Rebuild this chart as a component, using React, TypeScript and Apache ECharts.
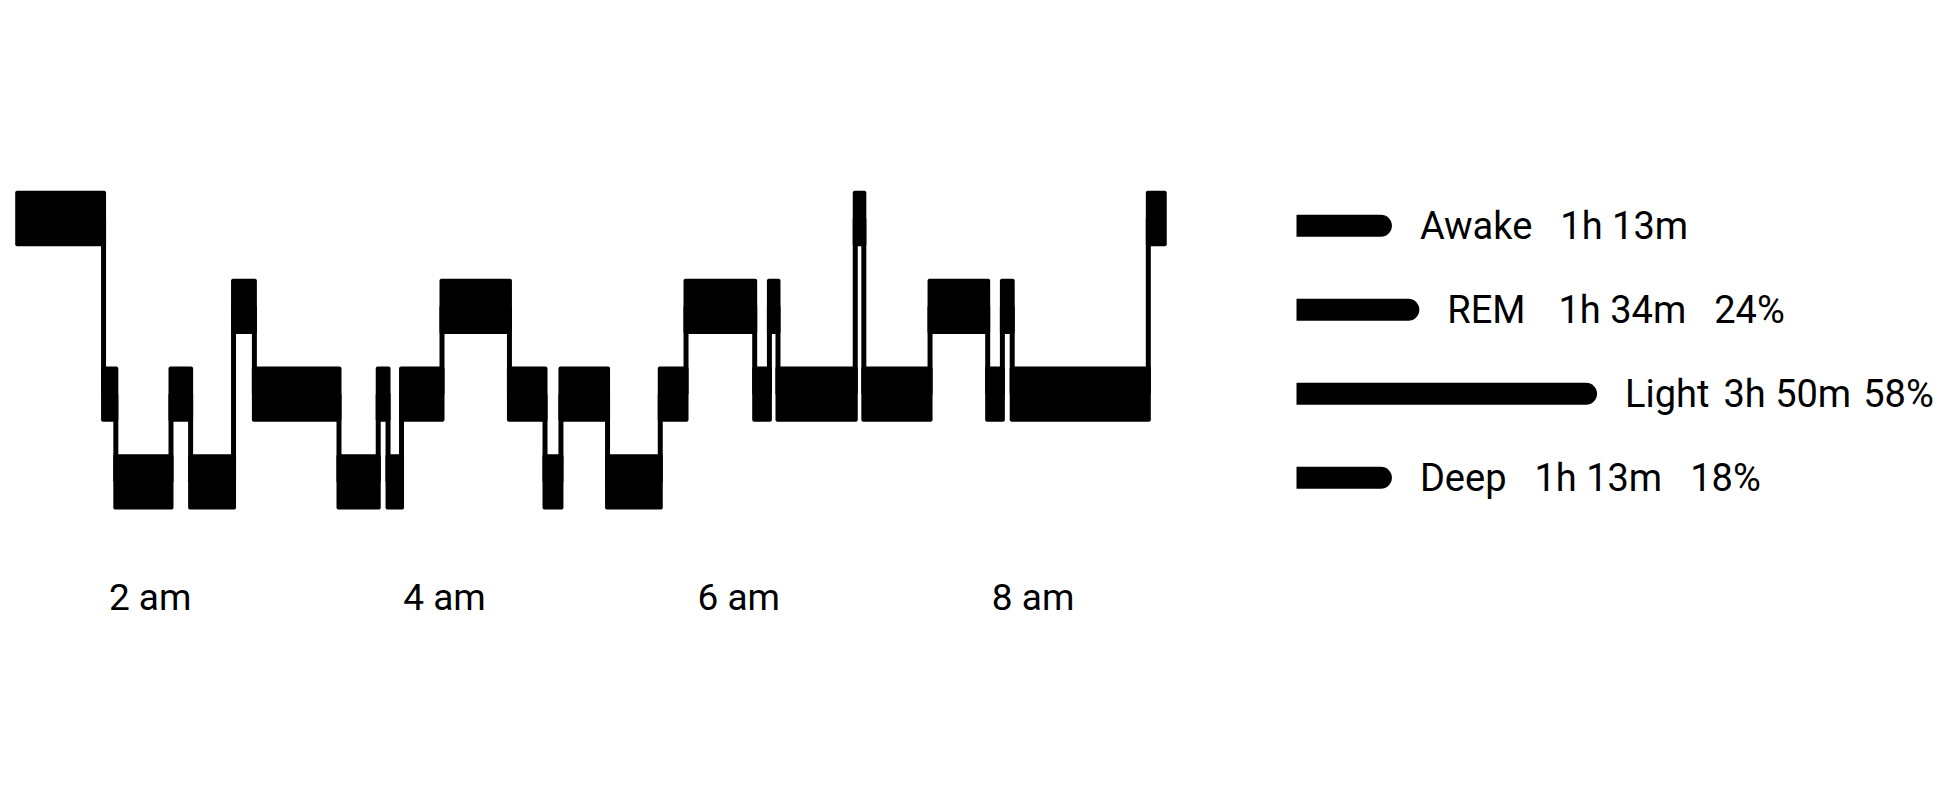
import { useEffect, useRef } from 'react';
import * as echarts from 'echarts';

// stages from bottom to top of the hypnogram
const stageOrder = ['Deep', 'Light', 'REM', 'Awake'];

// one stage per segment, in order through the night
const segmentStages = [
  'Awake', 'Light', 'Deep', 'Light', 'Deep', 'REM', 'Light', 'Deep', 'Light', 'Deep',
  'Light', 'REM', 'Light', 'Deep', 'Light', 'Deep', 'Light', 'REM', 'Light', 'REM',
  'Light', 'Awake', 'Light', 'REM', 'Light', 'REM', 'Light', 'Awake',
];

// segment boundaries, minutes since midnight (first = sleep start, last = wake up)
const segmentBounds = [
  66, 101, 106, 128.5, 136.5, 154, 162.5, 197, 213, 217, 222.5, 239, 266.5, 281, 287.5,
  306.5, 328, 338.5, 366.5, 372.5, 376, 407.5, 411, 438, 461.5, 467.5, 471.5, 527, 533.5,
];

// axis ticks (hours)
const tickHours = [2, 4, 6, 8];

// summary on the right
const summaryStages = ['Deep', 'Light', 'REM', 'Awake'];
const summaryMinutes = [73, 230, 94, 73];
const summaryDurations = ['1h 13m', '3h 50m', '1h 34m', '1h 13m'];
const summaryPercents = ['18%', '58%', '24%', ''];

export default function App() {
  const chartRef = useRef(null);

  useEffect(() => {
    const chart = echarts.init(chartRef.current, null, { renderer: 'svg' });

    const segments = segmentStages.map((s, i) => [
      segmentBounds[i],
      segmentBounds[i + 1],
      stageOrder.indexOf(s),
      i > 0 ? stageOrder.indexOf(segmentStages[i - 1]) : -1,
    ]);

    const font = 'Roboto, sans-serif';
    // gap token names per row: [name -> duration, duration -> percent]
    const gaps: Record<string, string[]> = {
      Deep: ['g28', 'g28'],
      Light: ['g14', 'g12'],
      REM: ['g33', 'g28'],
      Awake: ['g28', 'g28'],
    };
    const gapStyle = (w: number) => ({ width: w, fontSize: 38, fontFamily: font });

    const option = {
      animation: false,
      backgroundColor: '#ffffff',
      grid: [
        { left: 2.8, right: 764.8, top: 174.6, bottom: 282.2 },
        { left: 1296.5, right: 256.5, top: 183.8, bottom: 288.2 },
      ],
      xAxis: [
        {
          type: 'value',
          gridIndex: 0,
          min: 60,
          max: 540,
          interval: 60,
          axisLine: { show: false },
          axisTick: { show: false },
          splitLine: { show: false },
          axisLabel: {
            margin: 53,
            fontSize: 37,
            color: '#000',
            fontFamily: font,
            formatter: (v: number) => (tickHours.includes(v / 60) ? `${v / 60} am` : ''),
          },
        },
        {
          type: 'value',
          gridIndex: 1,
          min: 0,
          max: 300,
          show: false,
        },
      ],
      yAxis: [
        { type: 'category', gridIndex: 0, data: stageOrder, show: false },
        { type: 'category', gridIndex: 1, data: summaryStages, show: false },
      ],
      series: [
        {
          type: 'custom',
          xAxisIndex: 0,
          yAxisIndex: 0,
          clip: false,
          encode: { x: [0, 1], y: 2 },
          data: segments,
          renderItem: (params: any, api: any) => {
            const s = api.value(0);
            const e = api.value(1);
            const lvl = api.value(2);
            const prev = api.value(3);
            const p0 = api.coord([s, lvl]);
            const p1 = api.coord([e, lvl]);
            const band = api.size([0, 1])[1];
            const h = band * 0.63;
            const w = 5;
            const style = { fill: '#000' };
            const children: any[] = [
              {
                type: 'rect',
                shape: { x: p0[0] - w / 2, y: p0[1] - h / 2, width: p1[0] - p0[0] + w, height: h, r: 2 },
                style,
              },
            ];
            if (prev >= 0) {
              const pc = api.coord([s, prev]);
              children.push({
                type: 'rect',
                shape: {
                  x: p0[0] - w / 2,
                  y: Math.min(pc[1], p0[1]),
                  width: w,
                  height: Math.abs(pc[1] - p0[1]),
                },
                style,
              });
            }
            return { type: 'group', children };
          },
        },
        {
          type: 'bar',
          xAxisIndex: 1,
          yAxisIndex: 1,
          barWidth: 22,
          data: summaryMinutes,
          itemStyle: { color: '#000', borderRadius: [0, 11, 11, 0] },
          label: {
            show: true,
            position: 'right',
            distance: 28,
            fontSize: 38,
            color: '#000',
            fontFamily: font,
            rich: {
              g12: gapStyle(12),
              g14: gapStyle(14),
              g28: gapStyle(28),
              g33: gapStyle(33),
            },
            formatter: (p: any) => {
              const i = p.dataIndex;
              const name = summaryStages[i];
              const [g1, g2] = gaps[name];
              const pct = summaryPercents[i] ? `{${g2}| }` + summaryPercents[i] : '';
              return name + `{${g1}| }` + summaryDurations[i] + pct;
            },
          },
        },
      ],
    };

    chart.setOption(option);
    return () => {
      chart.dispose();
    };
  }, []);

  return (
    <div
      ref={chartRef}
      style={{ position: 'fixed', left: 0, top: 0, width: '1945px', height: '808px' }}
    />
  );
}
